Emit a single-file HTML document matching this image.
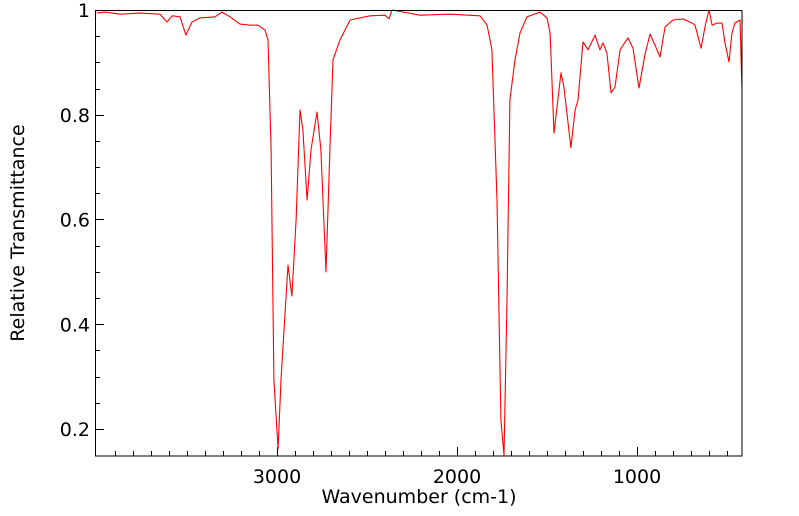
<!DOCTYPE html>
<html><head><meta charset="utf-8"><style>
body{margin:0;background:#fff;}
svg{display:block;font-family:"DejaVu Sans","Liberation Sans",sans-serif;}
</style></head><body>
<svg id="chart" width="799" height="516">
<g id="ticks"></g>
<path id="line" fill="none" stroke="#ff0000" stroke-width="1.1" stroke-linejoin="round"/>
<rect x="95.5" y="10.5" width="646.5" height="445.5" fill="none" stroke="#000" stroke-width="1"/>
<text x="419" y="503" font-size="19" text-anchor="middle">Wavenumber (cm-1)</text>
<text transform="translate(24,233) rotate(-90)" font-size="19" text-anchor="middle">Relative Transmittance</text>
</svg>
<script>
const wavenumbers=[4000,3956,3872,3761,3650,3611,3583,3539,3506,3472,3428,3344,3306,3261,3206,3150,3106,3067,3050,3033,3017,2994,2978,2961,2939,2917,2894,2872,2856,2833,2811,2778,2756,2728,2706,2689,2650,2594,2483,2400,2378,2361,2206,2039,1872,1833,1806,1778,1756,1739,1722,1706,1678,1650,1611,1539,1500,1483,1461,1422,1406,1367,1344,1328,1300,1272,1233,1206,1189,1167,1144,1122,1094,1050,1022,989,956,928,900,872,844,800,744,694,678,644,622,600,583,556,528,511,489,472,456,428,417];
const transmittance=[.994,.996,.992,.994,.992,.977,.989,.987,.952,.977,.985,.987,.996,.987,.973,.971,.971,.962,.943,.733,.294,.162,.294,.389,.513,.454,.599,.809,.771,.637,.733,.805,.733,.500,.733,.905,.943,.981,.989,.990,.983,1.0,.990,.992,.989,.971,.924,.637,.217,.150,.446,.828,.905,.956,.987,.996,.985,.956,.765,.880,.853,.737,.809,.828,.939,.924,.952,.924,.937,.918,.842,.853,.924,.947,.927,.851,.914,.954,.933,.910,.968,.981,.983,.975,.971,.927,.968,1.0,.971,.975,.975,.937,.901,.956,.975,.981,.853];
const xTickLabels=[3000,2000,1000];
const yTickLabels=[0.2,0.4,0.6,0.8,1];
const NS="http://www.w3.org/2000/svg";
function xs(w){return 637+(1000-w)*0.18;}
function ys(t){return 10+(1-t)*523.75;}
let d="";
for(let i=0;i<wavenumbers.length;i++){d+=(i?"L":"M")+xs(wavenumbers[i]).toFixed(1)+","+ys(transmittance[i]).toFixed(1);}
document.getElementById('line').setAttribute('d',d);
const g=document.getElementById('ticks');
function ln(x1,y1,x2,y2){const l=document.createElementNS(NS,'line');l.setAttribute('x1',x1);l.setAttribute('y1',y1);l.setAttribute('x2',x2);l.setAttribute('y2',y2);l.setAttribute('stroke','#000');


g.appendChild(l);}
function tx(x,y,s,a){const t=document.createElementNS(NS,'text');t.setAttribute('x',x);t.setAttribute('y',y);t.setAttribute('font-size','19');t.setAttribute('text-anchor',a);t.textContent=s;


g.appendChild(t);}
for(let w=3900;w>=500;w-=100){const x=Math.round(xs(w))+0.5;const major=w%1000===0;ln(x,456,x,major?447:451);}
xTickLabels.forEach(v=>tx(xs(v),483,String(v),'middle'));
for(let k=0;k<=16;k++){const t=0.2+k*0.05;const y=Math.round(ys(t))+0.5;const major=k%4===0;ln(95,y,major?104:100,y);}
yTickLabels.forEach(v=>tx(90,ys(v)+7,String(v),'end'));
</script>
</body></html>
